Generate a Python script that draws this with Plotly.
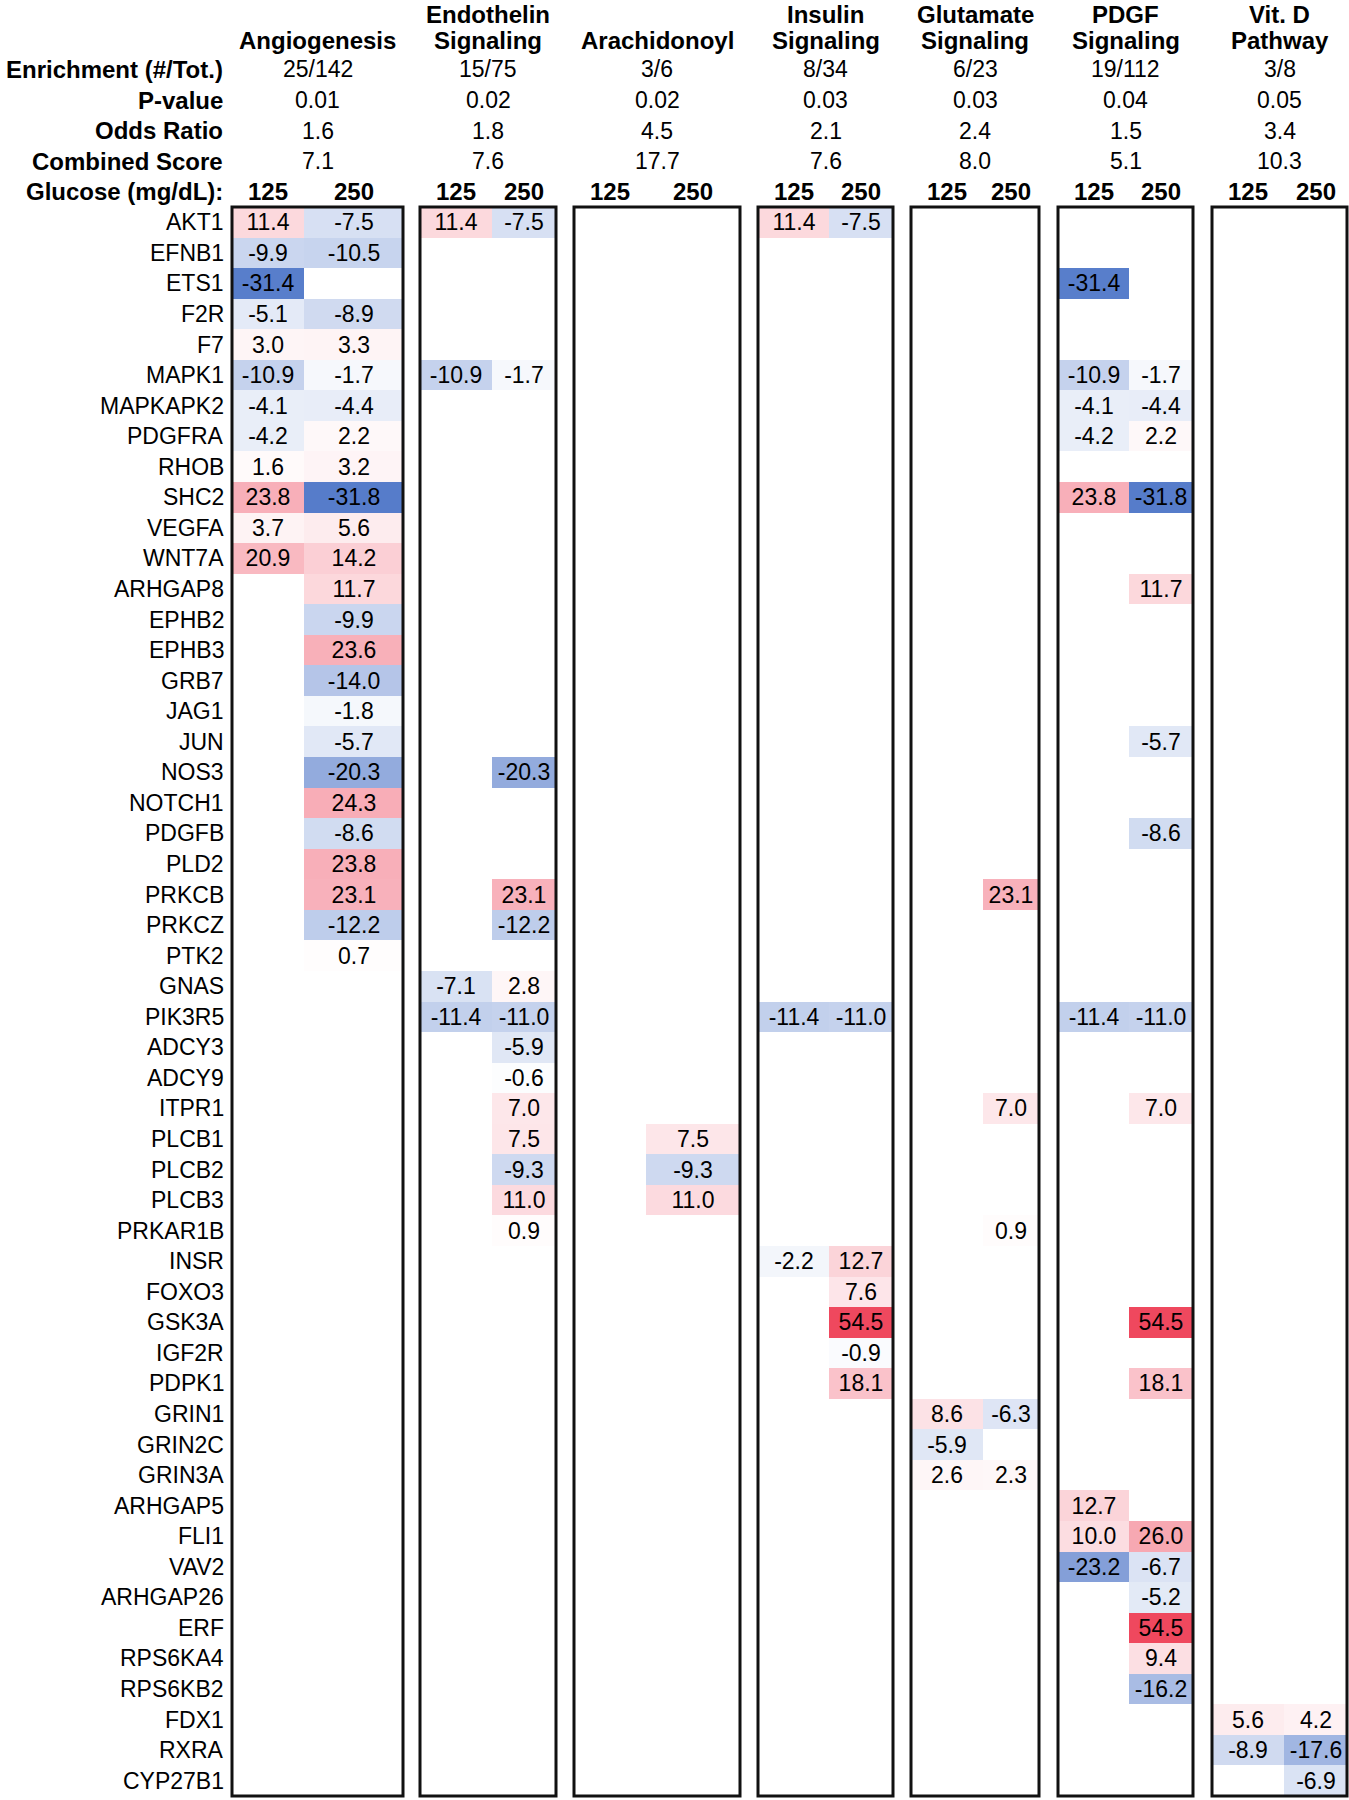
import plotly.graph_objects as go

# ---------------- data ----------------
genes = ["AKT1", "EFNB1", "ETS1", "F2R", "F7", "MAPK1", "MAPKAPK2", "PDGFRA", "RHOB", "SHC2",
         "VEGFA", "WNT7A", "ARHGAP8", "EPHB2", "EPHB3", "GRB7", "JAG1", "JUN", "NOS3", "NOTCH1",
         "PDGFB", "PLD2", "PRKCB", "PRKCZ", "PTK2", "GNAS", "PIK3R5", "ADCY3", "ADCY9", "ITPR1",
         "PLCB1", "PLCB2", "PLCB3", "PRKAR1B", "INSR", "FOXO3", "GSK3A", "IGF2R", "PDPK1", "GRIN1",
         "GRIN2C", "GRIN3A", "ARHGAP5", "FLI1", "VAV2", "ARHGAP26", "ERF", "RPS6KA4", "RPS6KB2",
         "FDX1", "RXRA", "CYP27B1"]

fc_125 = [11.4, -9.9, -31.4, -5.1, 3.0, -10.9, -4.1, -4.2, 1.6, 23.8,
          3.7, 20.9, None, None, None, None, None, None, None, None,
          None, None, None, None, None, -7.1, -11.4, None, None, None,
          None, None, None, None, -2.2, None, None, None, None, 8.6,
          -5.9, 2.6, 12.7, 10.0, -23.2, None, None, None, None,
          5.6, -8.9, None]

fc_250 = [-7.5, -10.5, None, -8.9, 3.3, -1.7, -4.4, 2.2, 3.2, -31.8,
          5.6, 14.2, 11.7, -9.9, 23.6, -14.0, -1.8, -5.7, -20.3, 24.3,
          -8.6, 23.8, 23.1, -12.2, 0.7, 2.8, -11.0, -5.9, -0.6, 7.0,
          7.5, -9.3, 11.0, 0.9, 12.7, 7.6, 54.5, -0.9, 18.1, -6.3,
          None, 2.3, None, 26.0, -6.7, -5.2, 54.5, 9.4, -16.2,
          4.2, -17.6, -6.9]

pathway_line1 = ["", "Endothelin", "", "Insulin", "Glutamate", "PDGF", "Vit. D"]
pathway_line2 = ["Angiogenesis", "Signaling", "Arachidonoyl", "Signaling", "Signaling", "Signaling", "Pathway"]
enrichment = ["25/142", "15/75", "3/6", "8/34", "6/23", "19/112", "3/8"]
p_value = ["0.01", "0.02", "0.02", "0.03", "0.03", "0.04", "0.05"]
odds_ratio = ["1.6", "1.8", "4.5", "2.1", "2.4", "1.5", "3.4"]
combined_score = ["7.1", "7.6", "17.7", "7.6", "8.0", "5.1", "10.3"]
glucose_levels = ["125", "250"]
header_labels = ["Enrichment (#/Tot.)", "P-value", "Odds Ratio", "Combined Score", "Glucose (mg/dL):"]

members_angiogenesis = genes[:25]
members_endothelin = ["AKT1", "MAPK1", "NOS3", "PRKCB", "PRKCZ", "GNAS", "PIK3R5", "ADCY3", "ADCY9",
                      "ITPR1", "PLCB1", "PLCB2", "PLCB3", "PRKAR1B"]
members_arachidonoyl = ["PLCB1", "PLCB2", "PLCB3"]
members_insulin = ["AKT1", "PIK3R5", "INSR", "FOXO3", "GSK3A", "IGF2R", "PDPK1"]
members_glutamate = ["PRKCB", "ITPR1", "PRKAR1B", "GRIN1", "GRIN2C", "GRIN3A"]
members_pdgf = ["ETS1", "MAPK1", "MAPKAPK2", "PDGFRA", "SHC2", "ARHGAP8", "JUN", "PDGFB", "PIK3R5",
                "ITPR1", "GSK3A", "PDPK1", "ARHGAP5", "FLI1", "VAV2", "ARHGAP26", "ERF",
                "RPS6KA4", "RPS6KB2"]
members_vitd = ["FDX1", "RXRA", "CYP27B1"]
memberships = [members_angiogenesis, members_endothelin, members_arachidonoyl, members_insulin,
               members_glutamate, members_pdgf, members_vitd]

# ---------------- layout (pixel units) ----------------
W, H = 1349, 1800
top, bottom = 207, 1796
nrow = len(genes)
rowh = (bottom - top) / nrow
# each box: left, split, right
boxes = [(232, 304, 403), (420, 492, 556), (574, 646, 740), (758, 829, 893),
         (911, 983, 1039), (1058, 1129, 1193), (1212, 1284, 1347)]

FONT = "Liberation Sans, Arial, Helvetica, sans-serif"
VAL_SIZE = 23
HDR_SIZE = 24

# heatmap grid incl. gap columns between boxes
x_edges = []
col_map = []
for bi, (l, s, r) in enumerate(boxes):
    if bi > 0:
        col_map.append(None)
    x_edges += [l, s, r]
    col_map += [(bi, 0), (bi, 1)]
y_edges = [top + i * rowh for i in range(nrow + 1)]

z, txt = [], []
for gi, g in enumerate(genes):
    zr, tr = [], []
    for cm in col_map:
        v = None
        if cm is not None:
            bi, lev = cm
            if g in memberships[bi]:
                v = (fc_125 if lev == 0 else fc_250)[gi]
        zr.append(v if v is not None else float("nan"))
        tr.append(f"{v:.1f}" if v is not None else "")
    z.append(zr)
    txt.append(tr)

allv = [v for v in fc_125 + fc_250 if v is not None]
zmin, zmax = min(allv), max(allv)
mid = -zmin / (zmax - zmin)
colorscale = [[0, "rgb(86,124,202)"], [mid, "rgb(255,255,255)"], [1, "rgb(239,72,94)"]]

fig = go.Figure()
fig.add_trace(go.Heatmap(
    x=x_edges, y=y_edges, z=z, text=txt, texttemplate="%{text}",
    textfont=dict(family=FONT, size=VAL_SIZE, color="black"),
    colorscale=colorscale, zmin=zmin, zmax=zmax, showscale=False,
    hoverinfo="skip", xgap=0, ygap=0,
))

annotations = []
def ann(x, y, text, size, bold=False, xanchor="center"):
    annotations.append(dict(
        x=x, y=y, xref="x", yref="y", text=f"<b>{text}</b>" if bold else text,
        showarrow=False, xanchor=xanchor, yanchor="middle", borderpad=0,
        font=dict(family=FONT, size=size, color="black")))

def hdr_y(k):  # k = 0 is the row just above the boxes
    return top - (k + 0.5) * rowh

label_x = 225
for gi, g in enumerate(genes):
    ann(label_x, top + (gi + 0.5) * rowh, g, VAL_SIZE, xanchor="right")

nh = len(header_labels)
for j, lab in enumerate(header_labels):
    ann(label_x - 1, hdr_y(nh - 1 - j), lab, HDR_SIZE, bold=True, xanchor="right")

for bi, (l, s, r) in enumerate(boxes):
    cx = (l + r) / 2
    for j, vals in enumerate([enrichment, p_value, odds_ratio, combined_score]):
        ann(cx, hdr_y(nh - 1 - j), vals[bi], VAL_SIZE)
    ann((l + s) / 2, hdr_y(0), glucose_levels[0], HDR_SIZE, bold=True)
    ann((s + r) / 2, hdr_y(0), glucose_levels[1], HDR_SIZE, bold=True)
    if pathway_line1[bi]:
        ann(cx, 14, pathway_line1[bi], HDR_SIZE, bold=True)
    ann(cx, hdr_y(nh) + 1.5, pathway_line2[bi], HDR_SIZE, bold=True)

shapes = []
for (l, s, r) in boxes:
    shapes.append(dict(type="rect", xref="x", yref="y", x0=l, x1=r, y0=top, y1=bottom,
                       line=dict(color="#111111", width=3), fillcolor="rgba(0,0,0,0)"))

fig.update_layout(
    width=W, height=H, margin=dict(l=0, r=0, t=0, b=0),
    paper_bgcolor="white", plot_bgcolor="white",
    xaxis=dict(range=[0, W], visible=False, fixedrange=True),
    yaxis=dict(range=[H, 0], visible=False, fixedrange=True),
    annotations=annotations, shapes=shapes, showlegend=False,
)
fig.write_html("out.html", config={"displayModeBar": False},
               post_script="document.body.style.margin='0';document.body.style.overflow='hidden';")
